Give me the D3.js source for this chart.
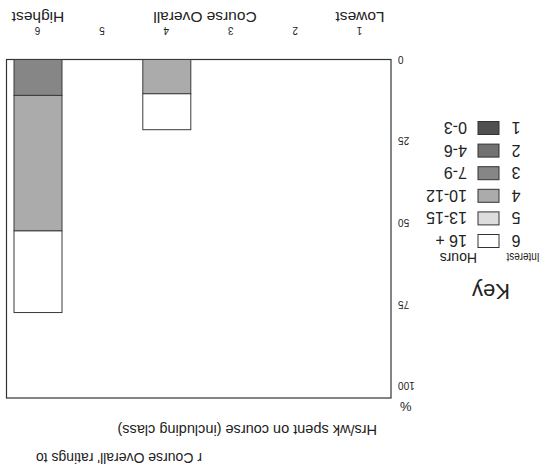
<!DOCTYPE html>
<html>
<head>
<meta charset="utf-8">
<script src="https://cdn.jsdelivr.net/npm/d3@7"></script>
<style>
  html, body { margin: 0; padding: 0; background: #fff; }
  svg { display: block; }
  text { font-family: "Liberation Sans", Arial, sans-serif; fill: #222; }
</style>
</head>
<body>
<svg id="chart" width="540" height="465"></svg>
<script>
// ---- data ----
const categories = ["1", "2", "3", "4", "5", "6"];
const categoryNames = { "1": "Lowest", "6": "Highest" };
const hourKeys = ["h0_3", "h4_6", "h7_9", "h10_12", "h13_15", "h16p"];
const hourLabels = ["0-3", "4-6", "7-9", "10-12", "13-15", "16 +"];
// percent of students in each hours bucket, per interest rating 1..6
const h0_3   = [0, 0, 0, 0,    0, 0];
const h4_6   = [0, 0, 0, 0,    0, 0];
const h7_9   = [0, 0, 0, 0,    0, 11];
const h10_12 = [0, 0, 0, 10.5, 0, 41.5];
const h13_15 = [0, 0, 0, 0,    0, 0];
const h16p   = [0, 0, 0, 11,   0, 25];
const yTicks = [0, 25, 50, 75, 100];
const colors = ["#505050", "#727272", "#868686", "#ababab", "#dddddd", "#ffffff"];

const series = { h0_3, h4_6, h7_9, h10_12, h13_15, h16p };
const table = categories.map((c, i) => {
  const row = { cat: c };
  hourKeys.forEach(k => row[k] = series[k][i]);
  return row;
});

// ---- drawing (chart is drawn upright, then the whole page is turned 180°) ----
const W = 540, H = 465;
const svg = d3.select("#chart");
const g = svg.append("g").attr("transform", `rotate(180 ${W / 2} ${H / 2})`);

const frame = { left: 149, right: 533.5, top: 67, bottom: 405.5 };
const x = d3.scalePoint().domain(categories).range([180, 502]);
const y = d3.scaleLinear().domain([0, 100]).range([405.5, 79]);
const barW = 48;
const color = d3.scaleOrdinal().domain(hourKeys).range(colors);

// frame
g.append("rect")
  .attr("x", frame.left).attr("y", frame.top)
  .attr("width", frame.right - frame.left).attr("height", frame.bottom - frame.top)
  .attr("fill", "none").attr("stroke", "#333").attr("stroke-width", 1.2);

// stacked bars
const stacked = d3.stack().keys(hourKeys)(table);
g.append("g").selectAll("g").data(stacked).join("g")
  .attr("fill", d => color(d.key))
  .selectAll("rect").data(d => d.filter(s => s[1] - s[0] > 0)).join("rect")
  .attr("x", d => x(d.data.cat) - barW / 2)
  .attr("width", barW)
  .attr("y", d => y(d[1]))
  .attr("height", d => y(d[0]) - y(d[1]))
  .attr("stroke", "#3a3a3a").attr("stroke-width", 1);

// y axis labels (left)
const yAxis = d3.axisLeft(y).tickValues(yTicks).tickSize(0).tickPadding(0);
const ya = g.append("g").attr("transform", `translate(${frame.left - 7},0)`).call(yAxis);
ya.select(".domain").remove();
ya.selectAll("text").style("font-size", "10px").attr("fill", "#222")
  .style("font-family", "'Liberation Sans', Arial, sans-serif");
g.append("text").attr("x", 140).attr("y", 63).attr("text-anchor", "end")
  .style("font-size", "13px").text("%");

// x axis labels (bottom)
const xAxis = d3.axisBottom(x).tickSize(0).tickPadding(0);
const xa = g.append("g").attr("transform", `translate(0,431)`).call(xAxis);
xa.select(".domain").remove();
xa.selectAll("text").style("font-size", "10px").attr("fill", "#222")
  .style("font-family", "'Liberation Sans', Arial, sans-serif");
g.append("g").selectAll("text").data(Object.keys(categoryNames)).join("text")
  .attr("x", d => x(d)).attr("y", 453).attr("text-anchor", "middle")
  .style("font-size", "15.5px").text(d => categoryNames[d]);
g.append("text")
  .attr("x", (x("3") + x("4")) / 2 - 6).attr("y", 453).attr("text-anchor", "middle")
  .style("font-size", "15.5px").text("Course Overall");

// top texts
g.append("text").attr("x", 163).attr("y", 40)
  .style("font-size", "14.5px").text("Hrs/wk spent on course (including class)");
g.append("text").attr("x", 338).attr("y", 12)
  .style("font-size", "14px").text("r  Course Overall' ratings to");

// legend
const lg = g.append("g");
lg.append("text").attr("x", 30).attr("y", 181).style("font-size", "22px").text("Key");
lg.append("text").attr("x", 0.5).attr("y", 212)
  .attr("textLength", 33).attr("lengthAdjust", "spacingAndGlyphs")
  .style("font-size", "13px").text("Interest");
lg.append("text").attr("x", 63).attr("y", 212).style("font-size", "14px").text("Hours");
const rowY = d3.scalePoint().domain(d3.range(6)).range([337, 224]);
const rows = lg.selectAll("g.row").data(hourKeys).join("g").attr("class", "row")
  .attr("transform", (d, i) => `translate(0,${rowY(i)})`);
rows.append("text").attr("x", 24).attr("y", 6).attr("text-anchor", "middle")
  .style("font-size", "16px").text((d, i) => i + 1);
rows.append("rect").attr("x", 41).attr("y", -6.5).attr("width", 21).attr("height", 13)
  .attr("fill", d => color(d)).attr("stroke", "#333").attr("stroke-width", 1);
rows.append("text").attr("x", 73).attr("y", 6)
  .style("font-size", "16px").text((d, i) => hourLabels[i]);
</script>
</body>
</html>
